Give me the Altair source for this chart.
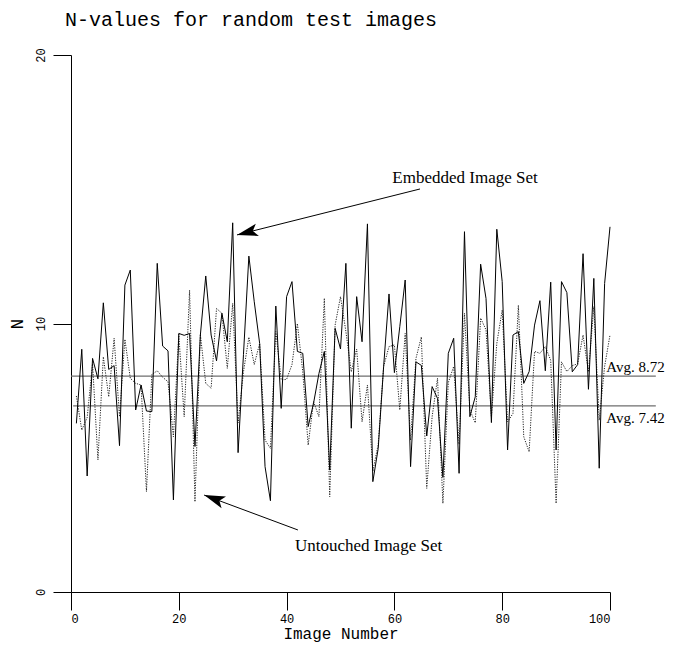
import altair as alt
import pandas as pd
import math

# --- data ---
image_number = list(range(1, 101))
embedded = [6.28, 9.04, 4.32, 8.70, 7.94, 10.77, 8.29, 8.43, 5.45, 11.43,
            11.99, 6.78, 7.71, 6.74, 6.72, 12.24, 9.16, 8.98, 3.43, 9.63,
            9.56, 9.63, 5.42, 9.57, 11.77, 9.57, 8.61, 10.38, 9.32, 13.75,
            5.19, 8.85, 12.51, 10.81, 9.26, 4.67, 3.40, 10.65, 6.84, 11.0,
            11.56, 8.96, 8.89, 6.16, 7.03, 8.14, 8.96, 4.54, 9.82, 9.05,
            12.24, 6.10, 11.0, 9.32, 13.71, 4.11, 5.35, 8.39, 11.10, 8.17,
            9.88, 11.62, 4.67, 8.57, 8.44, 5.81, 7.65, 7.21, 4.27, 8.89,
            9.45, 4.42, 13.42, 6.53, 7.27, 12.21, 10.93, 6.31, 13.51, 11.56,
            5.29, 9.57, 9.70, 7.77, 8.21, 9.94, 10.85, 8.24, 11.54, 5.29,
            11.56, 11.15, 8.20, 8.47, 12.6, 7.55, 11.68, 4.61, 11.49, 13.6]
untouched = [7.30, 6.03, 6.5, 8.5, 4.92, 8.76, 7.27, 9.45, 6.53, 9.41,
             7.96, 7.77, 7.71, 3.74, 8.1, 8.24, 8.0, 7.83, 5.78, 9.6,
             6.53, 11.24, 3.36, 9.6, 7.77, 7.59, 10.56, 10.38, 8.33, 10.75,
             6.3, 8.2, 9.49, 8.47, 9.26, 5.66, 5.35, 9.70, 7.90, 7.92,
             8.47, 10.0, 8.2, 5.47, 7.09, 6.53, 10.94, 3.55, 9.94, 11.0,
             9.7, 8.2, 9.05, 6.34, 7.71, 4.5, 5.5, 8.4, 9.14, 9.2,
             6.78, 9.63, 5.66, 8.7, 9.5, 3.86, 6.53, 7.96, 3.3, 7.8,
             8.4, 5.5, 10.38, 6.78, 6.3, 10.2, 9.76, 6.53, 9.26, 10.5,
             6.34, 6.65, 10.68, 5.78, 5.22, 8.96, 8.89, 9.14, 8.63, 3.3,
             8.57, 8.21, 8.43, 8.5, 9.57, 8.2, 10.63, 6.4, 8.4, 9.57]

avg_labels = ["Avg. 8.72", "Avg. 7.42"]
avg_line_y = [8.04, 6.93]          # where the lines are drawn in the reference
avg_label_y = [8.19, 6.29]

arrow_text = ["Embedded Image Set", "Untouched Image Set"]
arrow_text_x = [73.1, 55.2]
arrow_text_y = [15.42, 1.71]
arrow_tail_x = [64.75, 42.1]
arrow_tail_y = [15.01, 2.31]
arrow_tip_x = [30.8, 24.7]
arrow_tip_y = [13.30, 3.61]

X_PX = 539 / 100.0
Y_PX = 537 / 20.0

xs = alt.Scale(domain=[0, 100], nice=False)
ys = alt.Scale(domain=[0, 20], nice=False)

df = pd.DataFrame({"img": image_number, "emb": embedded, "unt": untouched})

base = alt.Chart(df)

emb_line = base.mark_line(color="black", strokeWidth=1).encode(
    x=alt.X("img:Q", scale=xs,
            axis=alt.Axis(values=[0, 20, 40, 60, 80, 100], title="Image Number")),
    y=alt.Y("emb:Q", scale=ys,
            axis=alt.Axis(values=[0, 10, 20], title="N")),
)
unt_line = base.mark_line(color="#222222", strokeWidth=1, strokeDash=[1.2, 1.3]).encode(
    x=alt.X("img:Q", scale=xs), y=alt.Y("unt:Q", scale=ys)
)

avg_df = pd.DataFrame({"label": avg_labels, "ly": avg_line_y, "ty": avg_label_y,
                       "x0": [0, 0.4], "x1": [108.5, 108.5], "tx": [99.3, 99.3]})
avg_rules = alt.Chart(avg_df).mark_rule(color="#6e6e6e", strokeWidth=1.3).encode(
    x=alt.X("x0:Q", scale=xs), x2="x1:Q", y=alt.Y("ly:Q", scale=ys)
)
avg_text = alt.Chart(avg_df).mark_text(
    align="left", baseline="alphabetic", font="Liberation Serif", fontSize=15, color="black"
).encode(x=alt.X("tx:Q", scale=xs), y=alt.Y("ty:Q", scale=ys), text="label:N")

angles = []
for i in range(2):
    dx = (arrow_tip_x[i] - arrow_tail_x[i]) * X_PX
    dy = -(arrow_tip_y[i] - arrow_tail_y[i]) * Y_PX
    a = math.degrees(math.atan2(dy, dx)) % 360
    angles.append(a)

arr_df = pd.DataFrame({"t": arrow_text, "tx": arrow_text_x, "ty": arrow_text_y,
                       "x0": arrow_tail_x, "y0": arrow_tail_y,
                       "x1": arrow_tip_x, "y1": arrow_tip_y, "ang": angles})
arr_shaft = alt.Chart(arr_df).mark_rule(color="black", strokeWidth=1).encode(
    x=alt.X("x0:Q", scale=xs), y=alt.Y("y0:Q", scale=ys), x2="x1:Q", y2="y1:Q"
)
arr_head = alt.Chart(arr_df).mark_point(
    shape="M0,0 L-2,-0.6 L-1.55,0 L-2,0.6 Z", filled=True, color="black", opacity=1, size=440
).encode(x=alt.X("x1:Q", scale=xs), y=alt.Y("y1:Q", scale=ys),
         angle=alt.Angle("ang:Q", scale=None))
arr_text = alt.Chart(arr_df).mark_text(
    font="Liberation Serif", fontSize=17, color="black", align="center", baseline="middle"
).encode(x=alt.X("tx:Q", scale=xs), y=alt.Y("ty:Q", scale=ys), text="t:N")

chart = alt.layer(
    avg_rules, unt_line, emb_line, avg_text, arr_shaft, arr_head, arr_text
).properties(
    width=539, height=537,
    title=alt.TitleParams("N-values for random test images", anchor="start", frame="group",
                          font="Liberation Mono", fontSize=20, fontWeight="normal",
                          color="black", dx=-6, offset=18),
    autosize=alt.AutoSizeParams(type="none"),
    padding={"left": 63, "top": 47, "right": 60, "bottom": 52},
).configure_view(stroke=None).configure_axis(
    grid=False, domainColor="black", domainWidth=1, tickColor="black", tickSize=18,
    tickWidth=1, labelFont="Liberation Mono", labelFontSize=12, labelColor="black",
    titleFont="Liberation Mono", titleFontWeight="normal", titleColor="black",
).configure_axisX(
    labelPadding=3, titleFontSize=16, titlePadding=1,
).configure_axisY(
    labelAngle=270, labelAlign="center", labelBaseline="bottom", labelPadding=6,
    titleFontSize=18, titleAngle=270, titlePadding=8,
)

chart.save("out.html", embed_options={"renderer": "svg", "actions": False})
